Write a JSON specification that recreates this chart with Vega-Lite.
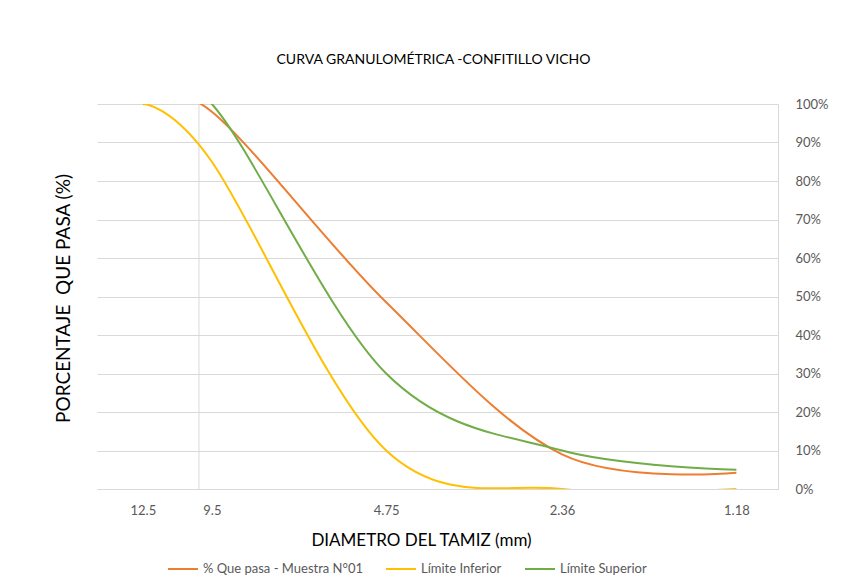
{
  "$schema": "https://vega.github.io/schema/vega-lite/v6.json",
  "width": 681,
  "height": 385,
  "autosize": {"type": "none"},
  "padding": {"left": 97, "top": 104, "right": 84, "bottom": 98},
  "background": "white",
  "config": {"font": "Lato", "view": {"stroke": null}},
  "title": {
    "text": "CURVA GRANULOMÉTRICA -CONFITILLO VICHO",
    "fontSize": 14,
    "fontWeight": "normal",
    "color": "#000000",
    "offset": 31,
    "anchor": "middle",
    "dx": -4
  },
  "data": {
    "values": [
      {"tamiz": 12.5, "serie": "% Que pasa - Muestra N°01", "pct": 100},
      {"tamiz": 9.5, "serie": "% Que pasa - Muestra N°01", "pct": 98},
      {"tamiz": 4.75, "serie": "% Que pasa - Muestra N°01", "pct": 48.5},
      {"tamiz": 2.36, "serie": "% Que pasa - Muestra N°01", "pct": 9},
      {"tamiz": 1.18, "serie": "% Que pasa - Muestra N°01", "pct": 4.2},
      {"tamiz": 12.5, "serie": "Límite Inferior", "pct": 100},
      {"tamiz": 9.5, "serie": "Límite Inferior", "pct": 85},
      {"tamiz": 4.75, "serie": "Límite Inferior", "pct": 10},
      {"tamiz": 2.36, "serie": "Límite Inferior", "pct": 0},
      {"tamiz": 1.18, "serie": "Límite Inferior", "pct": 0},
      {"tamiz": 12.5, "serie": "Límite Superior", "pct": 100},
      {"tamiz": 9.5, "serie": "Límite Superior", "pct": 100},
      {"tamiz": 4.75, "serie": "Límite Superior", "pct": 30},
      {"tamiz": 2.36, "serie": "Límite Superior", "pct": 10},
      {"tamiz": 1.18, "serie": "Límite Superior", "pct": 5}
    ]
  },
  "layer": [
    {
      "data": {"values": [{"tamiz": 10}]},
      "mark": {"type": "rule", "color": "#d9d9d9", "strokeWidth": 1},
      "encoding": {
        "x": {"field": "tamiz", "type": "quantitative"}
      }
    },
    {
      "mark": {"type": "line", "interpolate": "cardinal", "strokeWidth": 2, "clip": true},
      "encoding": {
        "x": {
          "field": "tamiz",
          "type": "quantitative",
          "scale": {"type": "log", "domain": [1, 15], "reverse": true, "nice": false},
          "axis": {
            "values": [12.5, 9.5, 4.75, 2.36, 1.18],
            "format": ".4~g",
            "grid": false,
            "ticks": false,
            "domain": true,
            "domainColor": "#d9d9d9",
            "labelPadding": 15,
            "labelFontSize": 13,
            "labelColor": "#595959",
            "labelFlush": false,
            "labelOverlap": false,
            "title": "DIAMETRO DEL TAMIZ (mm)",
            "titleX": 324,
            "titleY": 51,
            "titleFontSize": 17,
            "titleFontWeight": "normal",
            "titleColor": "#000000",
            "titleAlign": "center",
            "titleBaseline": "middle"
          }
        },
        "y": {
          "field": "pct",
          "type": "quantitative",
          "scale": {"domain": [0, 100], "nice": false},
          "axis": {
            "orient": "right",
            "values": [0, 10, 20, 30, 40, 50, 60, 70, 80, 90, 100],
            "labelExpr": "datum.value + '%'",
            "grid": true,
            "gridColor": "#d9d9d9",
            "domain": true,
            "domainColor": "#d9d9d9",
            "ticks": false,
            "labelPadding": 17,
            "labelFontSize": 13,
            "labelColor": "#595959",
            "labelAlign": "left",
            "title": "PORCENTAJE \u00a0QUE PASA (%)",
            "titleAngle": -90,
            "titleX": -715,
            "titleY": 194,
            "titleFontSize": 19,
            "titleFontWeight": "normal",
            "titleColor": "#000000",
            "titleAlign": "center",
            "titleBaseline": "middle"
          }
        },
        "color": {
          "field": "serie",
          "type": "nominal",
          "scale": {
            "domain": ["% Que pasa - Muestra N°01", "Límite Inferior", "Límite Superior"],
            "range": ["#ED7D31", "#FFC000", "#70AD47"]
          },
          "legend": {
            "orient": "none",
            "legendX": 70,
            "legendY": 449,
            "direction": "horizontal",
            "title": null,
            "symbolType": "stroke",
            "symbolSize": 900,
            "symbolStrokeWidth": 2,
            "labelFontSize": 13,
            "labelColor": "#595959",
            "labelOffset": 4,
            "columnPadding": 19
          }
        }
      }
    }
  ]
}
